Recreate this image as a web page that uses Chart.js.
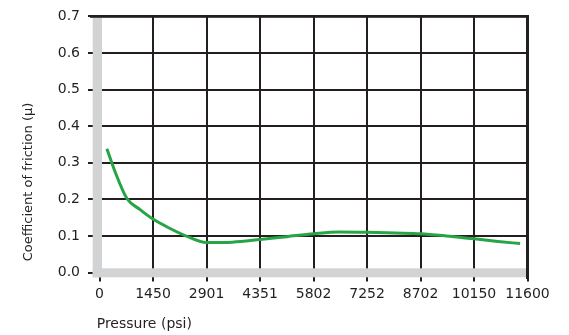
<!DOCTYPE html>
<html>
<head>
<meta charset="utf-8">
<script src="https://cdn.jsdelivr.net/npm/chart.js@4.4.1/dist/chart.umd.min.js"></script>
<style>
html,body{margin:0;padding:0;background:#fff;}
#wrap{width:569px;height:335px;}
</style>
</head>
<body>
<div id="wrap"><canvas id="c" width="569" height="335"></canvas></div>
<script>
// Data
const pressurePsi = [200, 420, 740, 1100, 1450, 1900, 2320, 2901, 3600, 4351, 5080, 5802, 6500, 7252, 8000, 8702, 9400, 10150, 10800, 11400];
const frictionCoef = [0.338, 0.276, 0.203, 0.172, 0.146, 0.121, 0.101, 0.082, 0.083, 0.090, 0.098, 0.106, 0.111, 0.110, 0.108, 0.106, 0.100, 0.092, 0.085, 0.079];
const xTickValues = [0, 1450, 2901, 4351, 5802, 7252, 8702, 10150, 11600];
const yMin = 0, yMax = 0.7, yStep = 0.1;
const xTitle = 'Pressure (psi)';
const yTitle = 'Coefficient of friction (\u03bc)';

const INK = '#231f20';
const GREY = '#d1d3d4';
const GREEN = '#27a446';
const FONT = 'DejaVu Sans';

const frame = {
  id: 'frame',
  beforeDatasetsDraw(chart) {
    const {ctx, chartArea: a} = chart;
    ctx.save();
    ctx.fillStyle = GREY;
    // left grey axis band
    ctx.fillRect(a.left - 6.8, a.top + 1, 9.3, a.bottom + 4.8 - a.top - 1);
    // bottom grey axis band
    ctx.fillRect(a.left - 6.8, a.bottom - 4.2, a.right - (a.left - 6.8), 9);
    ctx.fillStyle = INK;
    // top frame line
    ctx.fillRect(a.left - 9.5, a.top - 1.3, a.right + 1.5 - (a.left - 9.5), 2.7);
    // right frame line
    ctx.fillRect(a.right - 1.5, a.top - 1.3, 3, a.bottom + 6.5 - (a.top - 1.3));
    ctx.restore();
  },
  afterDraw(chart) {
    const {ctx} = chart;
    ctx.save();
    ctx.fillStyle = INK;
    ctx.font = '14px "' + FONT + '"';
    ctx.textAlign = 'left';
    ctx.textBaseline = 'alphabetic';
    ctx.fillText(xTitle, 96.7, 328);
    ctx.translate(31.5, 182);
    ctx.rotate(-Math.PI / 2);
    ctx.font = '13px "' + FONT + '"';
    ctx.textAlign = 'center';
    ctx.fillText(yTitle, 0, 0);
    ctx.restore();
  }
};

new Chart(document.getElementById('c'), {
  type: 'line',
  data: {
    datasets: [{
      data: pressurePsi.map((x, i) => ({x: x, y: frictionCoef[i]})),
      borderColor: GREEN,
      borderWidth: 3,
      pointRadius: 0,
      fill: false,
      cubicInterpolationMode: 'monotone'
    }]
  },
  options: {
    responsive: false,
    animation: false,
    events: [],
    layout: {padding: {top: 13, right: 41.5, left: 0, bottom: 0}},
    plugins: {legend: {display: false}, tooltip: {enabled: false}},
    scales: {
      x: {
        type: 'linear',
        min: 0, max: 11600,
        afterBuildTicks: s => { s.ticks = xTickValues.map(v => ({value: v})); },
        afterFit: s => { s.height = 62.5; },
        border: {display: false},
        grid: {
          color: INK,
          lineWidth: c => (c.tick && (c.tick.value === 0 || c.tick.value === 11600)) ? 0 : 2,
          tickColor: INK,
          tickWidth: 2,
          tickLength: 9,
          drawTicks: true
        },
        ticks: {
          autoSkip: false,
          maxRotation: 0,
          color: INK,
          padding: 4,
          font: {family: FONT, size: 14},
          callback: v => String(v)
        }
      },
      y: {
        min: yMin, max: yMax,
        afterFit: s => { s.width = 99.5; },
        border: {display: false},
        grid: {
          color: INK,
          lineWidth: c => (c.tick && Math.abs(c.tick.value) < 1e-9) ? 0 : 2,
          tickColor: INK,
          tickWidth: 2,
          tickLength: 11.5,
          drawTicks: true
        },
        ticks: {
          stepSize: yStep,
          color: INK,
          padding: 8,
          font: {family: FONT, size: 14},
          callback: v => Number(v).toFixed(1)
        }
      }
    }
  },
  plugins: [frame]
});
</script>
</body>
</html>
